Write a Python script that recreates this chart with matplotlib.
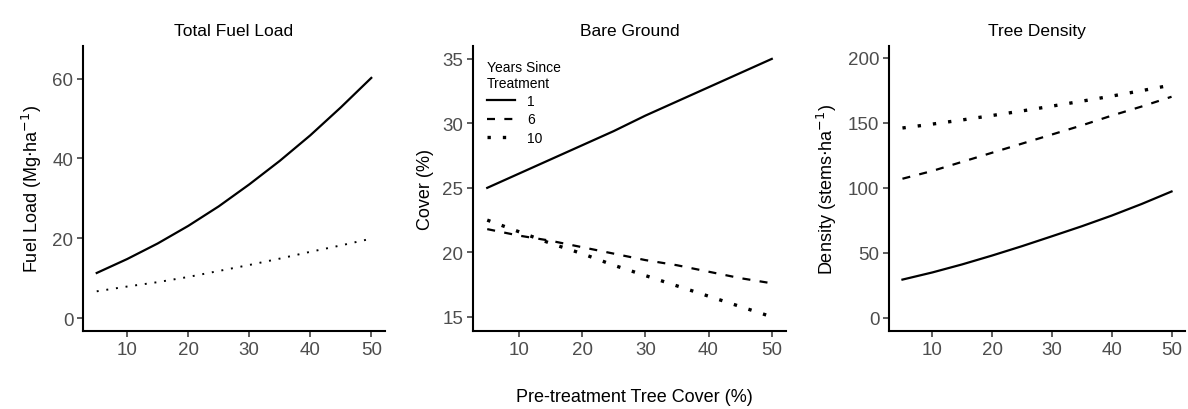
import numpy as np
import matplotlib
matplotlib.use('Agg')
import matplotlib.pyplot as plt

plt.rcParams['font.family'] = ['Liberation Sans', 'DejaVu Sans']

# x values: pre-treatment tree cover (%)
cover = [5, 10, 15, 20, 25, 30, 35, 40, 45, 50]

# Total fuel load (Mg/ha)
fuel_1yr = [11.3, 14.8, 18.7, 23.1, 28.0, 33.5, 39.4, 45.8, 52.8, 60.2]
fuel_10yr = [6.7, 7.9, 9.0, 10.3, 11.8, 13.3, 14.9, 16.6, 18.2, 19.9]

# Bare ground cover (%)
bare_1yr = [25.0, 26.1, 27.2, 28.3, 29.4, 30.6, 31.7, 32.8, 33.9, 35.0]
bare_6yr = [21.8, 21.3, 20.9, 20.4, 19.9, 19.4, 19.0, 18.5, 18.0, 17.6]
bare_10yr = [22.5, 21.6, 20.7, 19.9, 19.0, 18.2, 17.4, 16.6, 15.8, 15.0]

# Tree density (stems/ha)
dens_1yr = [29.5, 35.0, 41.2, 48.0, 55.2, 62.8, 70.5, 78.7, 87.6, 97.2]
dens_6yr = [107.0, 113.0, 120.0, 127.0, 134.0, 141.0, 148.0, 155.5, 162.5, 170.0]
dens_10yr = [146.0, 149.0, 152.2, 155.6, 159.1, 162.8, 166.6, 170.5, 174.7, 179.0]

years = ['1', '6', '10']

W, H = 1188, 410
fig = plt.figure(figsize=(W / 100, H / 100), dpi=100)

def px_axes(left, right, top, bottom):
    return fig.add_axes([left / W, 1 - bottom / H, (right - left) / W, (bottom - top) / H])

ax1 = px_axes(83, 385, 47, 332)
ax2 = px_axes(473, 786, 47, 332)
ax3 = px_axes(889, 1185, 47, 332)

solid = dict(color='black', lw=1.6, linestyle='-')
dashed = dict(color='black', lw=1.6, linestyle=(0, (3.6, 4.2)))
dotted = dict(color='black', lw=2.4, linestyle=(0, (1, 3.6)))
dotted_small = dict(color='black', lw=1.4, linestyle=(0, (1, 4.0)))

ax1.plot(cover, fuel_1yr, **solid)
ax1.plot(cover, fuel_10yr, **dotted_small)

l1, = ax2.plot(cover, bare_1yr, **solid)
l2, = ax2.plot(cover, bare_6yr, **dashed)
l3, = ax2.plot(cover, bare_10yr, **dotted)

ax3.plot(cover, dens_1yr, **solid)
ax3.plot(cover, dens_6yr, **dashed)
ax3.plot(cover, dens_10yr, **dotted)

ax1.set_ylim(-3.25, 68.2)
ax1.set_yticks([0, 20, 40, 60])
ax2.set_ylim(13.9, 36.0)
ax2.set_yticks([15, 20, 25, 30, 35])
ax3.set_ylim(-10, 209)
ax3.set_yticks([0, 50, 100, 150, 200])

titles = ['Total Fuel Load', 'Bare Ground', 'Tree Density']
ylabels = ['Fuel Load (Mg$\\cdot$ha$^{-1}$)', 'Cover (%)', 'Density (stems$\\cdot$ha$^{-1}$)']
for ax, t, yl in zip([ax1, ax2, ax3], titles, ylabels):
    ax.set_xlim(2.75, 52.25)
    ax.set_xticks([10, 20, 30, 40, 50])
    ax.set_title(t, fontsize=12.5, pad=8)
    ax.set_ylabel(yl, fontsize=13, labelpad=6)
    for s in ['top', 'right']:
        ax.spines[s].set_visible(False)
    for s in ['left', 'bottom']:
        ax.spines[s].set_linewidth(1.5)
    ax.tick_params(axis='both', labelsize=13.5, labelcolor='#4D4D4D', color='#333333',
                   length=4, width=1.1, pad=3)

leg = ax2.legend([l1, l2, l3], years, title='Years Since\nTreatment', loc='upper left',
                 bbox_to_anchor=(0.0, 1.0), frameon=False, fontsize=10,
                 title_fontsize=10, handlelength=2.0, handletextpad=0.9,
                 labelspacing=0.3, borderaxespad=0.6)
leg._legend_box.align = 'left'

fig.text(634 / W, 1 - 398 / H, 'Pre-treatment Tree Cover (%)', ha='center', va='center', fontsize=13)

fig.savefig('out.png', dpi=100)
